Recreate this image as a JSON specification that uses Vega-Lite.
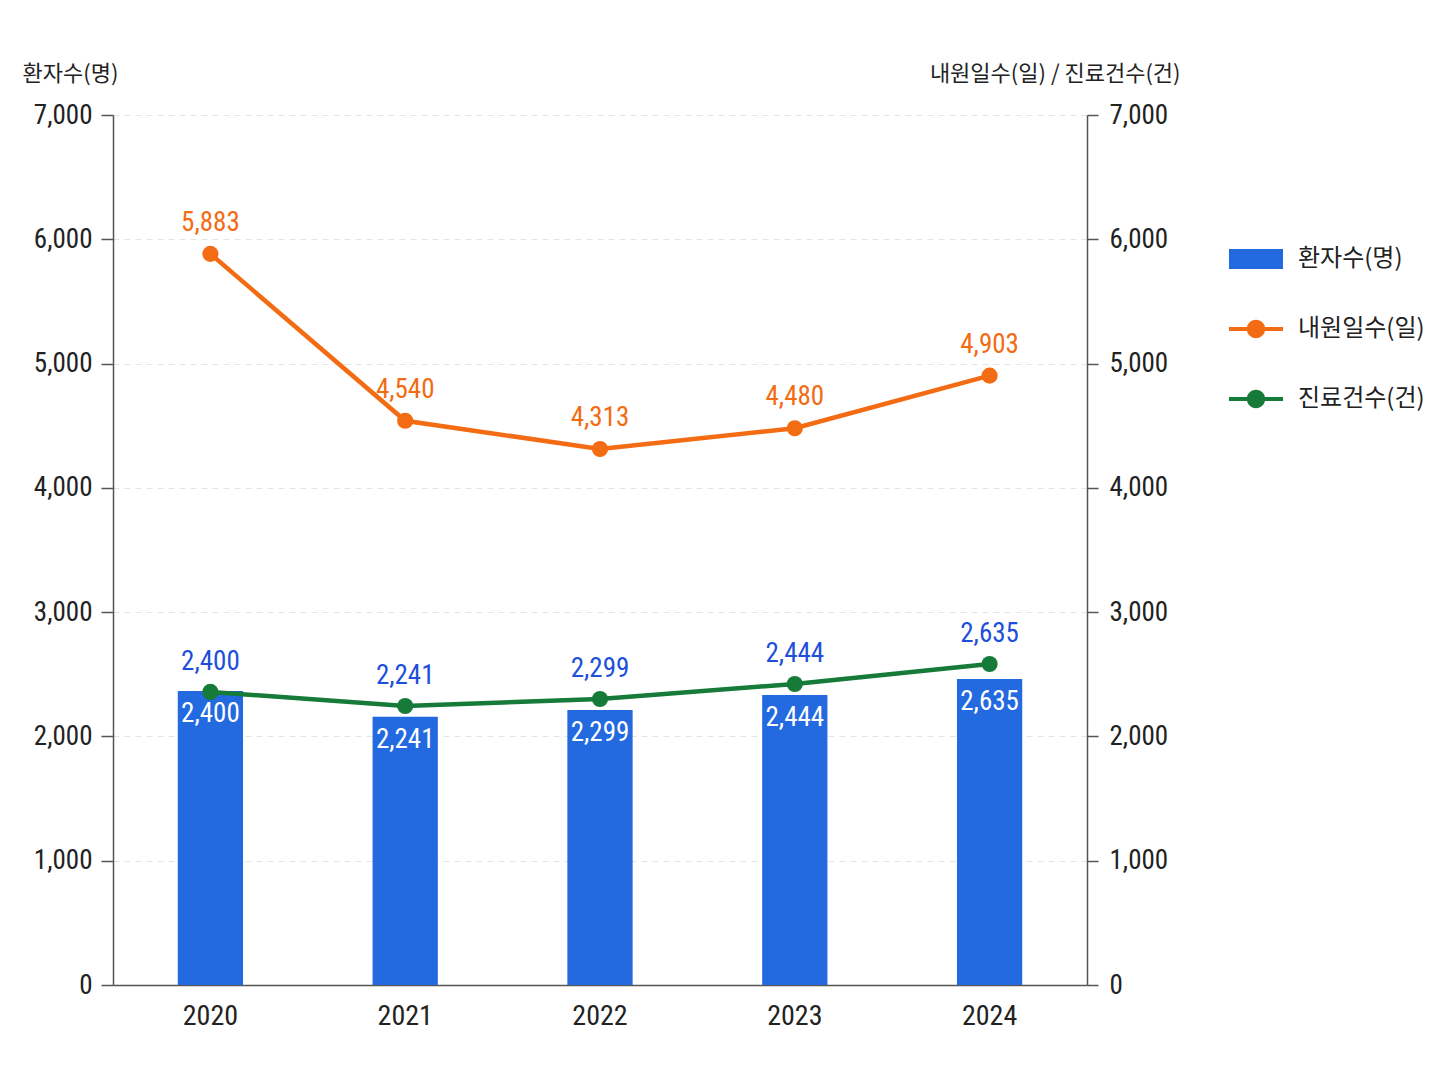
{
  "$schema": "https://vega.github.io/schema/vega-lite/v6.json",
  "autosize": "none",
  "width": 974,
  "height": 870,
  "padding": {"left": 113, "top": 115, "right": 361, "bottom": 101},
  "background": "white",
  "config": {
    "font": "Roboto Condensed, DejaVu Sans Condensed, Liberation Sans Narrow, Roboto, Noto Sans CJK KR, sans-serif",
    "view": {"stroke": null},
    "axis": {
      "labelFont": "Roboto Condensed, DejaVu Sans Condensed, Liberation Sans Narrow, Roboto, Noto Sans CJK KR, sans-serif",
      "titleFont": "Noto Sans CJK KR, sans-serif",
      "labelColor": "#222",
      "titleColor": "#222",
      "domainColor": "#555",
      "tickColor": "#555",
      "domainWidth": 1.5,
      "tickWidth": 1.5
    }
  },
  "data": {
    "values": [
      {"연도": "2020", "구분": "환자수(명)", "값": 2366, "표기": 2400},
      {"연도": "2021", "구분": "환자수(명)", "값": 2159, "표기": 2241},
      {"연도": "2022", "구분": "환자수(명)", "값": 2213, "표기": 2299},
      {"연도": "2023", "구분": "환자수(명)", "값": 2333, "표기": 2444},
      {"연도": "2024", "구분": "환자수(명)", "값": 2462, "표기": 2635},
      {"연도": "2020", "구분": "내원일수(일)", "값": 5883, "표기": 5883},
      {"연도": "2021", "구분": "내원일수(일)", "값": 4540, "표기": 4540},
      {"연도": "2022", "구분": "내원일수(일)", "값": 4313, "표기": 4313},
      {"연도": "2023", "구분": "내원일수(일)", "값": 4480, "표기": 4480},
      {"연도": "2024", "구분": "내원일수(일)", "값": 4903, "표기": 4903},
      {"연도": "2020", "구분": "진료건수(건)", "값": 2358, "표기": 2400},
      {"연도": "2021", "구분": "진료건수(건)", "값": 2245, "표기": 2241},
      {"연도": "2022", "구분": "진료건수(건)", "값": 2301, "표기": 2299},
      {"연도": "2023", "구분": "진료건수(건)", "값": 2422, "표기": 2444},
      {"연도": "2024", "구분": "진료건수(건)", "값": 2583, "표기": 2635}
    ]
  },
  "encoding": {
    "x": {
      "field": "연도",
      "type": "ordinal",
      "title": null,
      "scale": {"paddingInner": 0, "paddingOuter": 0},
      "axis": {"labelAngle": 0, "ticks": false, "labelFontSize": 28, "labelPadding": 17, "domainColor": "#555"}
    }
  },
  "layer": [
    {
      "transform": [{"filter": "datum['구분'] === '환자수(명)'"}],
      "encoding": {
        "y": {
          "field": "값",
          "type": "quantitative",
          "scale": {"domain": [0, 7000], "nice": false},
          "axis": {
            "title": "환자수(명)",
            "titleAngle": 0,
            "titleX": -91,
            "titleY": -42,
            "titleAlign": "left",
            "titleBaseline": "middle",
            "titleFontSize": 22,
            "titleFontWeight": "normal",
            "values": [0, 1000, 2000, 3000, 4000, 5000, 6000, 7000],
            "format": ",.0f",
            "labelFontSize": 27,
            "labelPadding": 9,
            "tickSize": 12,
            "grid": true,
            "gridColor": "#e4e4e4",
            "gridDash": [6, 5],
            "gridWidth": 1.2
          }
        }
      },
      "layer": [
        {
          "mark": {"type": "bar", "width": {"band": 0.335}},
          "encoding": {
            "color": {
              "field": "구분",
              "type": "nominal",
              "scale": {
                "domain": ["환자수(명)", "내원일수(일)", "진료건수(건)"],
                "range": ["#2369DF", "#F36B12", "#167A38"]
              },
              "legend": {
                "title": null,
                "orient": "none",
                "legendX": 1116,
                "legendY": 117,
                "labelFont": "Noto Sans CJK KR, sans-serif",
                "labelFontSize": 24,
                "labelColor": "#222",
                "labelOffset": 15,
                "rowPadding": 31,
                "symbolSize": 2916,
                "symbolStrokeWidth": 0,
                "symbolOpacity": 1,
                "encode": {
                  "symbols": {
                    "update": {
                      "shape": {"signal": "datum.value === '환자수(명)' ? 'M-1,-0.37H1V0.37H-1Z' : 'M-1,-0.075H1V0.075H-1Z M-0.34,0a0.34,0.34 0 1,1 0.68,0a0.34,0.34 0 1,1 -0.68,0Z'"},
                      "fill": {"scale": "color", "field": "value"},
                      "strokeWidth": {"value": 0},
                      "opacity": {"value": 1}
                    }
                  }
                }
              }
            }
          }
        },
        {
          "mark": {"type": "text", "color": "white", "fontSize": 27, "baseline": "middle", "dy": 23},
          "encoding": {"text": {"field": "표기", "type": "quantitative", "format": ","}}
        }
      ]
    },
    {
      "transform": [{"filter": "datum['구분'] !== '환자수(명)'"}],
      "encoding": {
        "y": {
          "field": "값",
          "type": "quantitative",
          "scale": {"domain": [0, 7000], "nice": false},
          "axis": {
            "orient": "right",
            "title": "내원일수(일) / 진료건수(건)",
            "titleAngle": 0,
            "titleX": 93,
            "titleY": -42,
            "titleAlign": "right",
            "titleBaseline": "middle",
            "titleFontSize": 22,
            "titleFontWeight": "normal",
            "values": [0, 1000, 2000, 3000, 4000, 5000, 6000, 7000],
            "format": ",.0f",
            "labelFontSize": 27,
            "labelPadding": 11,
            "tickSize": 11,
            "grid": false
          }
        }
      },
      "layer": [
        {
          "mark": {"type": "line", "strokeWidth": 4.5},
          "encoding": {"color": {"field": "구분", "type": "nominal"}}
        },
        {
          "mark": {"type": "point", "filled": true, "opacity": 1, "size": 260},
          "encoding": {"color": {"field": "구분", "type": "nominal"}}
        },
        {
          "transform": [{"filter": "datum['구분'] === '내원일수(일)'"}],
          "mark": {"type": "text", "color": "#F36B12", "fontSize": 27, "baseline": "middle", "dy": -31},
          "encoding": {"text": {"field": "표기", "type": "quantitative", "format": ","}}
        },
        {
          "transform": [{"filter": "datum['구분'] === '진료건수(건)'"}],
          "mark": {"type": "text", "color": "#1E4FDB", "fontSize": 27, "baseline": "middle", "dy": -30},
          "encoding": {"text": {"field": "표기", "type": "quantitative", "format": ","}}
        }
      ]
    }
  ],
  "resolve": {"scale": {"y": "independent"}}
}
